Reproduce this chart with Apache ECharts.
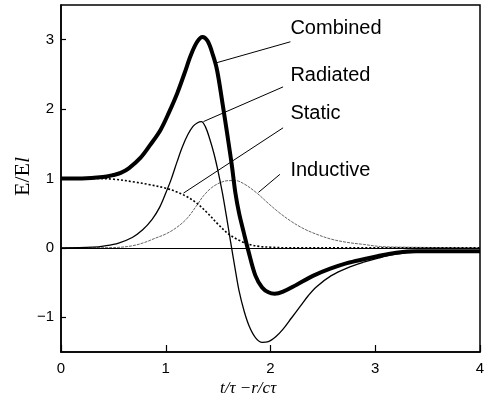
<!DOCTYPE html>
<html><head><meta charset="utf-8">
<script src="https://cdn.jsdelivr.net/npm/echarts@6/dist/echarts.min.js"></script>
<style>html,body{margin:0;padding:0;background:#fff}#c{width:491px;height:406px}</style>
</head><body><div id="c"></div>
<script>
// Data (t/τ − r/cτ, E/El)
const combined = [[0,1.0],[0.2,1.0],[0.4,1.02],[0.5,1.05],[0.57,1.08],[0.65,1.15],[0.76,1.30],[0.85,1.48],[0.95,1.70],[1.03,1.95],[1.11,2.23],[1.18,2.52],[1.24,2.78],[1.30,2.97],[1.35,3.04],[1.40,2.98],[1.45,2.78],[1.49,2.56],[1.54,2.10],[1.59,1.61],[1.63,1.20],[1.665,0.79],[1.70,0.50],[1.745,0.22],[1.79,-0.05],[1.856,-0.40],[1.92,-0.57],[1.98,-0.64],[2.04,-0.66],[2.12,-0.63],[2.25,-0.53],[2.41,-0.40],[2.57,-0.30],[2.73,-0.22],[2.90,-0.16],[3.02,-0.12],[3.2,-0.07],[3.4,-0.05],[3.7,-0.05],[4.0,-0.05]];
const radiated = [[0,0],[0.3,0.01],[0.42,0.03],[0.55,0.07],[0.68,0.15],[0.78,0.26],[0.87,0.41],[0.94,0.58],[1.0,0.79],[1.05,0.98],[1.11,1.25],[1.16,1.46],[1.21,1.63],[1.26,1.75],[1.30,1.80],[1.34,1.82],[1.38,1.74],[1.42,1.57],[1.46,1.36],[1.50,1.10],[1.54,0.80],[1.58,0.45],[1.62,0.08],[1.66,-0.28],[1.70,-0.62],[1.75,-0.92],[1.80,-1.14],[1.86,-1.30],[1.92,-1.36],[1.98,-1.35],[2.05,-1.28],[2.12,-1.17],[2.20,-1.01],[2.285,-0.84],[2.36,-0.69],[2.44,-0.56],[2.58,-0.40],[2.73,-0.29],[2.88,-0.21],[3.02,-0.15],[3.2,-0.09],[3.4,-0.06],[3.7,-0.05],[4.0,-0.05]];
const staticF = [[0,1.0],[0.3,1.0],[0.5,0.99],[0.7,0.95],[0.85,0.91],[1.0,0.86],[1.1,0.81],[1.2,0.74],[1.3,0.64],[1.4,0.50],[1.5,0.34],[1.6,0.20],[1.7,0.11],[1.8,0.05],[1.9,0.02],[2.0,0.01],[2.2,0],[4.0,0]];
const inductive = [[0,0],[0.5,0.005],[0.68,0.03],[0.8,0.08],[0.9,0.14],[1.0,0.20],[1.1,0.29],[1.2,0.42],[1.3,0.62],[1.36,0.75],[1.44,0.87],[1.52,0.94],[1.6,0.97],[1.665,0.97],[1.75,0.92],[1.87,0.79],[1.98,0.64],[2.09,0.50],[2.2,0.38],[2.3,0.29],[2.4,0.22],[2.57,0.13],[2.73,0.08],[2.89,0.05],[3.05,0.02],[3.3,0.01],[4.0,0]];
const xTicks = [0,1,2,3,4];
const yTicks = [-1,0,1,2,3];
const seriesNames = ['Combined','Radiated','Static','Inductive'];
// annotation: leader line start, end, label anchor (data coords)
const leaderStart = [[1.49,2.67],[1.36,1.82],[1.17,0.79],[1.885,0.80]];
const leaderEnd = [[2.19,2.97],[2.12,2.32],[2.12,1.73],[2.09,1.06]];
const labelAt = [[2.19,3.16],[2.19,2.49],[2.19,1.93],[2.19,1.12]];

const styles = [
  {color:'#000', width:4, type:'solid'},
  {color:'#000', width:1.3, type:'solid'},
  {color:'#000', width:1.6, type:[2,2]},
  {color:'#555', width:0.9, type:[3,1]}
];
const datas = [combined, radiated, staticF, inductive];

const chart = echarts.init(document.getElementById('c'));
const series = datas.map((d,i)=>({
  type:'line', name: seriesNames[i], data:d, smooth:0.35, showSymbol:false, symbol:'none',
  lineStyle: styles[i], z: 5-i, silent:true,
  markLine: {symbol:['none','none'], silent:true, animation:false,
    lineStyle:{color:'#000', width:1, type:'solid'}, label:{show:false},
    data: [[{coord:leaderStart[i]},{coord:leaderEnd[i]}]].concat(i===0?[{yAxis:0, lineStyle:{color:'#000',width:1.2,type:'solid'}}]:[])},
  markPoint: {symbol:'circle', symbolSize:0, silent:true, animation:false,
    label:{show:true, position:'right', distance:0, formatter: seriesNames[i], color:'#000', fontFamily:'Liberation Sans', fontSize:20},
    data:[{coord:labelAt[i]}]}
}));

chart.setOption({
  animation:false,
  backgroundColor:'#fff',
  grid:{left:61, right:11, top:5, bottom:54, show:true, borderColor:'#000', borderWidth:1.5},
  xAxis:{type:'value', min:0, max:4, interval:1,
    axisLine:{onZero:false, lineStyle:{color:'#000', width:1.5}},
    axisTick:{inside:true, length:7, lineStyle:{color:'#000', width:1.2}},
    axisLabel:{color:'#000', fontFamily:'Liberation Sans', fontSize:15, margin:9, customValues:xTicks},
    splitLine:{show:false}},
  yAxis:{type:'value', min:-1.5, max:3.5,
    axisLine:{onZero:false, lineStyle:{color:'#000', width:1.5}},
    axisTick:{inside:true, length:5, customValues:yTicks, lineStyle:{color:'#000', width:1.2}},
    axisLabel:{color:'#000', fontFamily:'Liberation Sans', fontSize:15, margin:7, customValues:yTicks,
      formatter: v => v < 0 ? '\u2212' + Math.abs(v) : String(v)},
    splitLine:{show:false}},
  graphic:[
    {type:'text', left:220, top:380, style:{text:'t/\u03c4 \u2212r/c\u03c4', font:'italic 17px "Liberation Serif"', fill:'#000'}},
    {type:'text', x:12, y:196, rotation:Math.PI/2, style:{text:'{a|E/E}{b|l}', fill:'#000',
      rich:{a:{fontFamily:'Liberation Serif', fontSize:22, fill:'#000'}, b:{fontFamily:'Liberation Serif', fontStyle:'italic', fontSize:22, fill:'#000'}}}}
  ],
  series: series
});
</script></body></html>
